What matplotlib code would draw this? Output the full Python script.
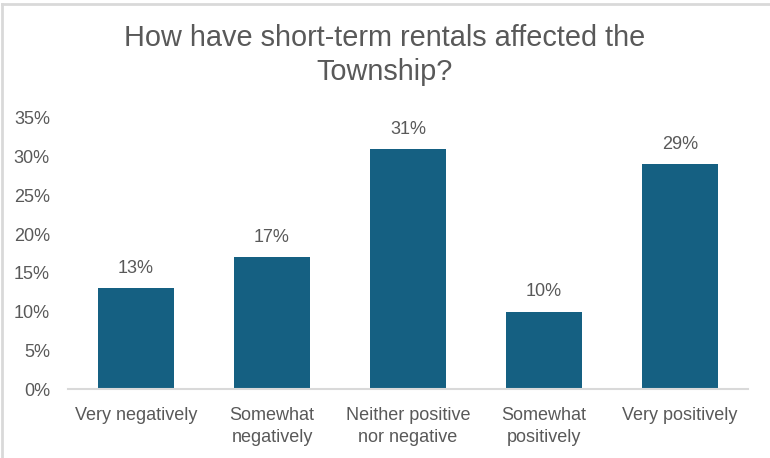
import matplotlib.pyplot as plt
from matplotlib.lines import Line2D

categories = ['Very negatively', 'Somewhat\nnegatively', 'Neither positive\nnor negative',
              'Somewhat\npositively', 'Very positively']
shares = [13, 17, 31, 10, 29]
y_ticks = [0, 5, 10, 15, 20, 25, 30, 35]

plt.rcParams['font.family'] = ['Liberation Sans', 'DejaVu Sans']
text_color = '#595959'
bar_color = '#156082'

fig = plt.figure(figsize=(7.7, 4.58), dpi=100)
ax = fig.add_axes([68 / 770, 69 / 458, 680 / 770, 271 / 458])

x = range(len(categories))
bars = ax.bar(x, shares, width=0.566, color=bar_color)
for rect, v in zip(bars, shares):
    ax.annotate(f'{v}%', (rect.get_x() + rect.get_width() / 2, v),
                xytext=(0, 8), textcoords='offset points',
                ha='center', va='bottom', fontsize=13, color=text_color)

ax.set_xlim(-0.5, len(categories) - 0.5)
ax.set_ylim(0, 35)
ax.set_yticks(y_ticks)
ax.set_yticklabels([f'{t}%' for t in y_ticks])
ax.set_xticks(list(x))
ax.set_xticklabels(categories, linespacing=1.4)
ax.tick_params(axis='both', length=0, labelsize=13, labelcolor=text_color)
ax.tick_params(axis='y', pad=13)
ax.tick_params(axis='x', pad=13)
for side in ['top', 'right', 'left']:
    ax.spines[side].set_visible(False)
ax.spines['bottom'].set_color('#D9D9D9')
ax.spines['bottom'].set_linewidth(1.5)

fig.text(0.5, 1 - 55 / 458, 'How have short-term rentals affected the\nTownship?',
         ha='center', va='center', fontsize=20.8, color=text_color, linespacing=1.3)

# chart frame (left and top edges)
frame = '#D9D9D9'
fig.add_artist(Line2D([1.5 / 770, 1.5 / 770], [0, 1 - 3.5 / 458], color=frame, lw=2,
                      transform=fig.transFigure))
fig.add_artist(Line2D([1.5 / 770, 1], [1 - 3.5 / 458, 1 - 3.5 / 458], color=frame, lw=2,
                      transform=fig.transFigure))

fig.savefig('out.png', dpi=100)
